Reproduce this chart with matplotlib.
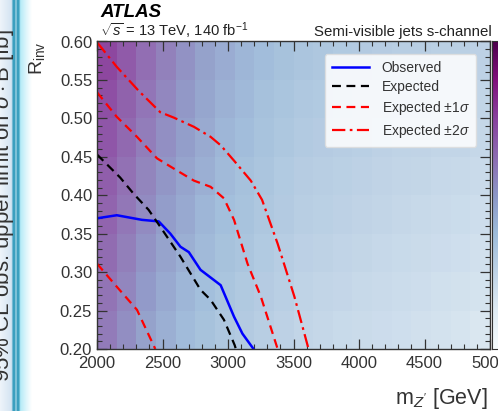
import numpy as np
import matplotlib
matplotlib.use("Agg")
import matplotlib.pyplot as plt
from matplotlib.colors import Normalize, LinearSegmentedColormap
from matplotlib.ticker import MultipleLocator

plt.rcParams['font.family'] = ['Liberation Sans', 'DejaVu Sans']
plt.rcParams['mathtext.fontset'] = 'custom'
plt.rcParams['mathtext.rm'] = 'Liberation Sans'
plt.rcParams['mathtext.it'] = 'Liberation Sans:italic'

# ---------------- data ----------------
# heat-map: log10(95% CL obs. upper limit on sigma*B [fb]) per mass bin (columns), R_inv bins bottom->top
mass_edges = np.arange(2000, 5001, 150)
rinv_edges = np.arange(0.20, 0.6001, 0.05)
log_limit_by_mass = [
    [1.80, 1.87, 1.94, 2.01, 2.07, 2.14, 2.21, 2.28],
    [1.62, 1.69, 1.76, 1.83, 1.89, 1.96, 2.03, 2.10],
    [1.44, 1.51, 1.58, 1.65, 1.71, 1.78, 1.85, 1.92],
    [1.29, 1.35, 1.42, 1.48, 1.55, 1.61, 1.68, 1.74],
    [1.17, 1.23, 1.29, 1.35, 1.41, 1.47, 1.53, 1.59],
    [1.08, 1.13, 1.18, 1.23, 1.29, 1.34, 1.39, 1.44],
    [0.99, 1.04, 1.08, 1.13, 1.18, 1.23, 1.27, 1.32],
    [0.93, 0.97, 1.02, 1.06, 1.10, 1.14, 1.19, 1.23],
    [0.87, 0.91, 0.95, 0.99, 1.02, 1.06, 1.10, 1.14],
    [0.81, 0.85, 0.89, 0.93, 0.96, 1.00, 1.04, 1.08],
    [0.75, 0.79, 0.83, 0.87, 0.90, 0.94, 0.98, 1.02],
    [0.72, 0.76, 0.80, 0.84, 0.87, 0.91, 0.95, 0.99],
    [0.69, 0.73, 0.77, 0.81, 0.84, 0.88, 0.92, 0.96],
    [0.66, 0.70, 0.74, 0.78, 0.81, 0.85, 0.89, 0.93],
    [0.63, 0.67, 0.71, 0.75, 0.78, 0.82, 0.86, 0.90],
    [0.60, 0.64, 0.68, 0.72, 0.75, 0.79, 0.83, 0.87],
    [0.57, 0.61, 0.66, 0.70, 0.74, 0.78, 0.83, 0.87],
    [0.54, 0.58, 0.63, 0.67, 0.71, 0.75, 0.80, 0.84],
    [0.51, 0.56, 0.60, 0.65, 0.70, 0.75, 0.79, 0.84],
    [0.48, 0.53, 0.57, 0.62, 0.67, 0.72, 0.76, 0.81],
]

obs_m = [2000, 2151, 2343, 2471, 2560, 2637, 2701, 2790, 2944, 3046, 3110, 3195]
obs_r = [0.370, 0.374, 0.368, 0.366, 0.350, 0.333, 0.326, 0.303, 0.283, 0.242, 0.220, 0.200]

exp_m = [2000, 2177, 2279, 2394, 2483, 2637, 2790, 2867, 2969, 3051, 3060]
exp_r = [0.453, 0.423, 0.402, 0.381, 0.359, 0.320, 0.277, 0.264, 0.238, 0.205, 0.200]

p1_m = [2000, 2151, 2305, 2458, 2612, 2740, 2867, 2969, 3046, 3149, 3251, 3379]
p1_r = [0.534, 0.502, 0.476, 0.448, 0.432, 0.419, 0.411, 0.396, 0.368, 0.311, 0.268, 0.200]

m1_m = [2000, 2151, 2305, 2445]
m1_r = [0.311, 0.281, 0.251, 0.200]

p2_m = [2000, 2151, 2317, 2483, 2586, 2740, 2867, 2944, 3046, 3174, 3260, 3379, 3507, 3615]
p2_r = [0.599, 0.567, 0.536, 0.508, 0.501, 0.489, 0.476, 0.465, 0.445, 0.419, 0.394, 0.337, 0.268, 0.200]

x_ticks = [2000, 2500, 3000, 3500, 4000, 4500, 5000]
y_ticks = [0.20, 0.25, 0.30, 0.35, 0.40, 0.45, 0.50, 0.55, 0.60]

# ---------------- figure ----------------
W, H = 498, 411
fig = plt.figure(figsize=(W / 100, H / 100), dpi=100)

# left slide decoration strip
strip = fig.add_axes([0, 0, 32 / W, 1])
strip.set_axis_off()
grad = np.linspace(0, 1, 128)
teal = "#3a9fbf"
strip_cmap = LinearSegmentedColormap.from_list(
    "strip", [(0.0, "#eef4fa"), (11.5 / 32, "#d4e4f2"), (13 / 32, teal), (15 / 32, teal),
              (16 / 32, "#d8f0f8"), (17 / 32, teal), (19 / 32, teal), (20.5 / 32, "#b5ebf7"),
              (27 / 32, "#e2f7fc"), (1.0, "#ffffff")])
strip.imshow(grad[None, :], aspect='auto', cmap=strip_cmap, extent=[0, 1, 0, 1])
strip.set_xlim(0, 1)
strip.set_ylim(0, 1)
fig.text(4 / W, 0.50, r"95% CL obs. upper limit on $\sigma\cdot$B [fb]", rotation=90,
         ha='center', va='center', fontsize=16, color='#333333')

ax = fig.add_axes([97 / W, 1 - 349 / H, (490 - 97) / W, (349 - 41.5) / H])

Z = np.array(log_limit_by_mass).T
cmap = plt.get_cmap('BuPu')
ax.pcolormesh(mass_edges, rinv_edges, Z, cmap=cmap, norm=Normalize(0, 3), shading='flat',
              edgecolors='face', linewidth=0.0, alpha=0.95)

ax.plot(obs_m, obs_r, color='#0000ff', lw=1.8, label='Observed')
ax.plot(exp_m, exp_r, color='black', lw=1.6, ls=(0, (4, 2.5)), label='Expected')
ax.plot(p1_m, p1_r, color='#ff0000', lw=1.6, ls=(0, (4, 2.5)), label=r'Expected $\pm1\sigma$')
ax.plot(m1_m, m1_r, color='#ff0000', lw=1.6, ls=(0, (4, 2.5)))
ax.plot(p2_m, p2_r, color='#ff0000', lw=1.6, ls=(0, (6, 2, 1.2, 2)), label=r'Expected $\pm2\sigma$')

ax.set_xlim(2000, 5000)
ax.set_ylim(0.20, 0.60)
ax.set_xticks(x_ticks)
ax.set_yticks(y_ticks)
ax.set_xticklabels([str(v) for v in x_ticks])
ax.set_yticklabels([f"{v:.2f}" for v in y_ticks])
ax.xaxis.set_minor_locator(MultipleLocator(100))
ax.yaxis.set_minor_locator(MultipleLocator(0.01))
ax.tick_params(which='both', direction='in', top=True, right=True, colors='#333333',
               labelcolor='#333333', labelsize=12)
ax.tick_params(which='major', length=7, width=0.9)
ax.tick_params(which='minor', length=3.5, width=0.8)
ax.tick_params(axis='x', which='major', pad=5)
for s in ax.spines.values():
    s.set_color('#333333')
    s.set_linewidth(1.0)

ax.set_xlabel(r"m$_{Z'}$ [GeV]", fontsize=15.5, ha='right', x=0.995, color='#333333', labelpad=11)
ax.set_ylabel(r"R$_{\rm inv}$", fontsize=14, ha='right', y=1.0, color='#333333', labelpad=9)

leg = ax.legend(loc='upper right', bbox_to_anchor=(0.983, 0.981), fontsize=10, frameon=True,
                fancybox=True, framealpha=0.85, edgecolor='#dddddd', handlelength=2.7,
                borderpad=0.5, labelspacing=0.35, handletextpad=0.9)
for t in leg.get_texts():
    t.set_color('#333333')

fig.text(100 / W, 1 - 17 / H, "ATLAS", fontsize=13.5, fontweight='bold', style='italic', color='black')
fig.text(100 / W, 1 - 36 / H, r"$\sqrt{s}$ = 13 TeV, 140 fb$^{-1}$", fontsize=10.6, color='#222222')
fig.text(492 / W, 1 - 36 / H, "Semi-visible jets s-channel", fontsize=10.8, color='#222222', ha='right')

# colorbar (cut off at right edge)
cax = fig.add_axes([492 / W, 1 - 349 / H, 20 / W, (349 - 41.5) / H])
cgrad = np.linspace(0, 1, 256)[:, None]
cax.imshow(cgrad, aspect='auto', cmap=cmap, origin='lower', extent=[0, 1, 0, 1])
cax.set_xticks([])
cax.set_yticks([])
for s in cax.spines.values():
    s.set_color('#333333')

fig.savefig("out.png", dpi=100)
